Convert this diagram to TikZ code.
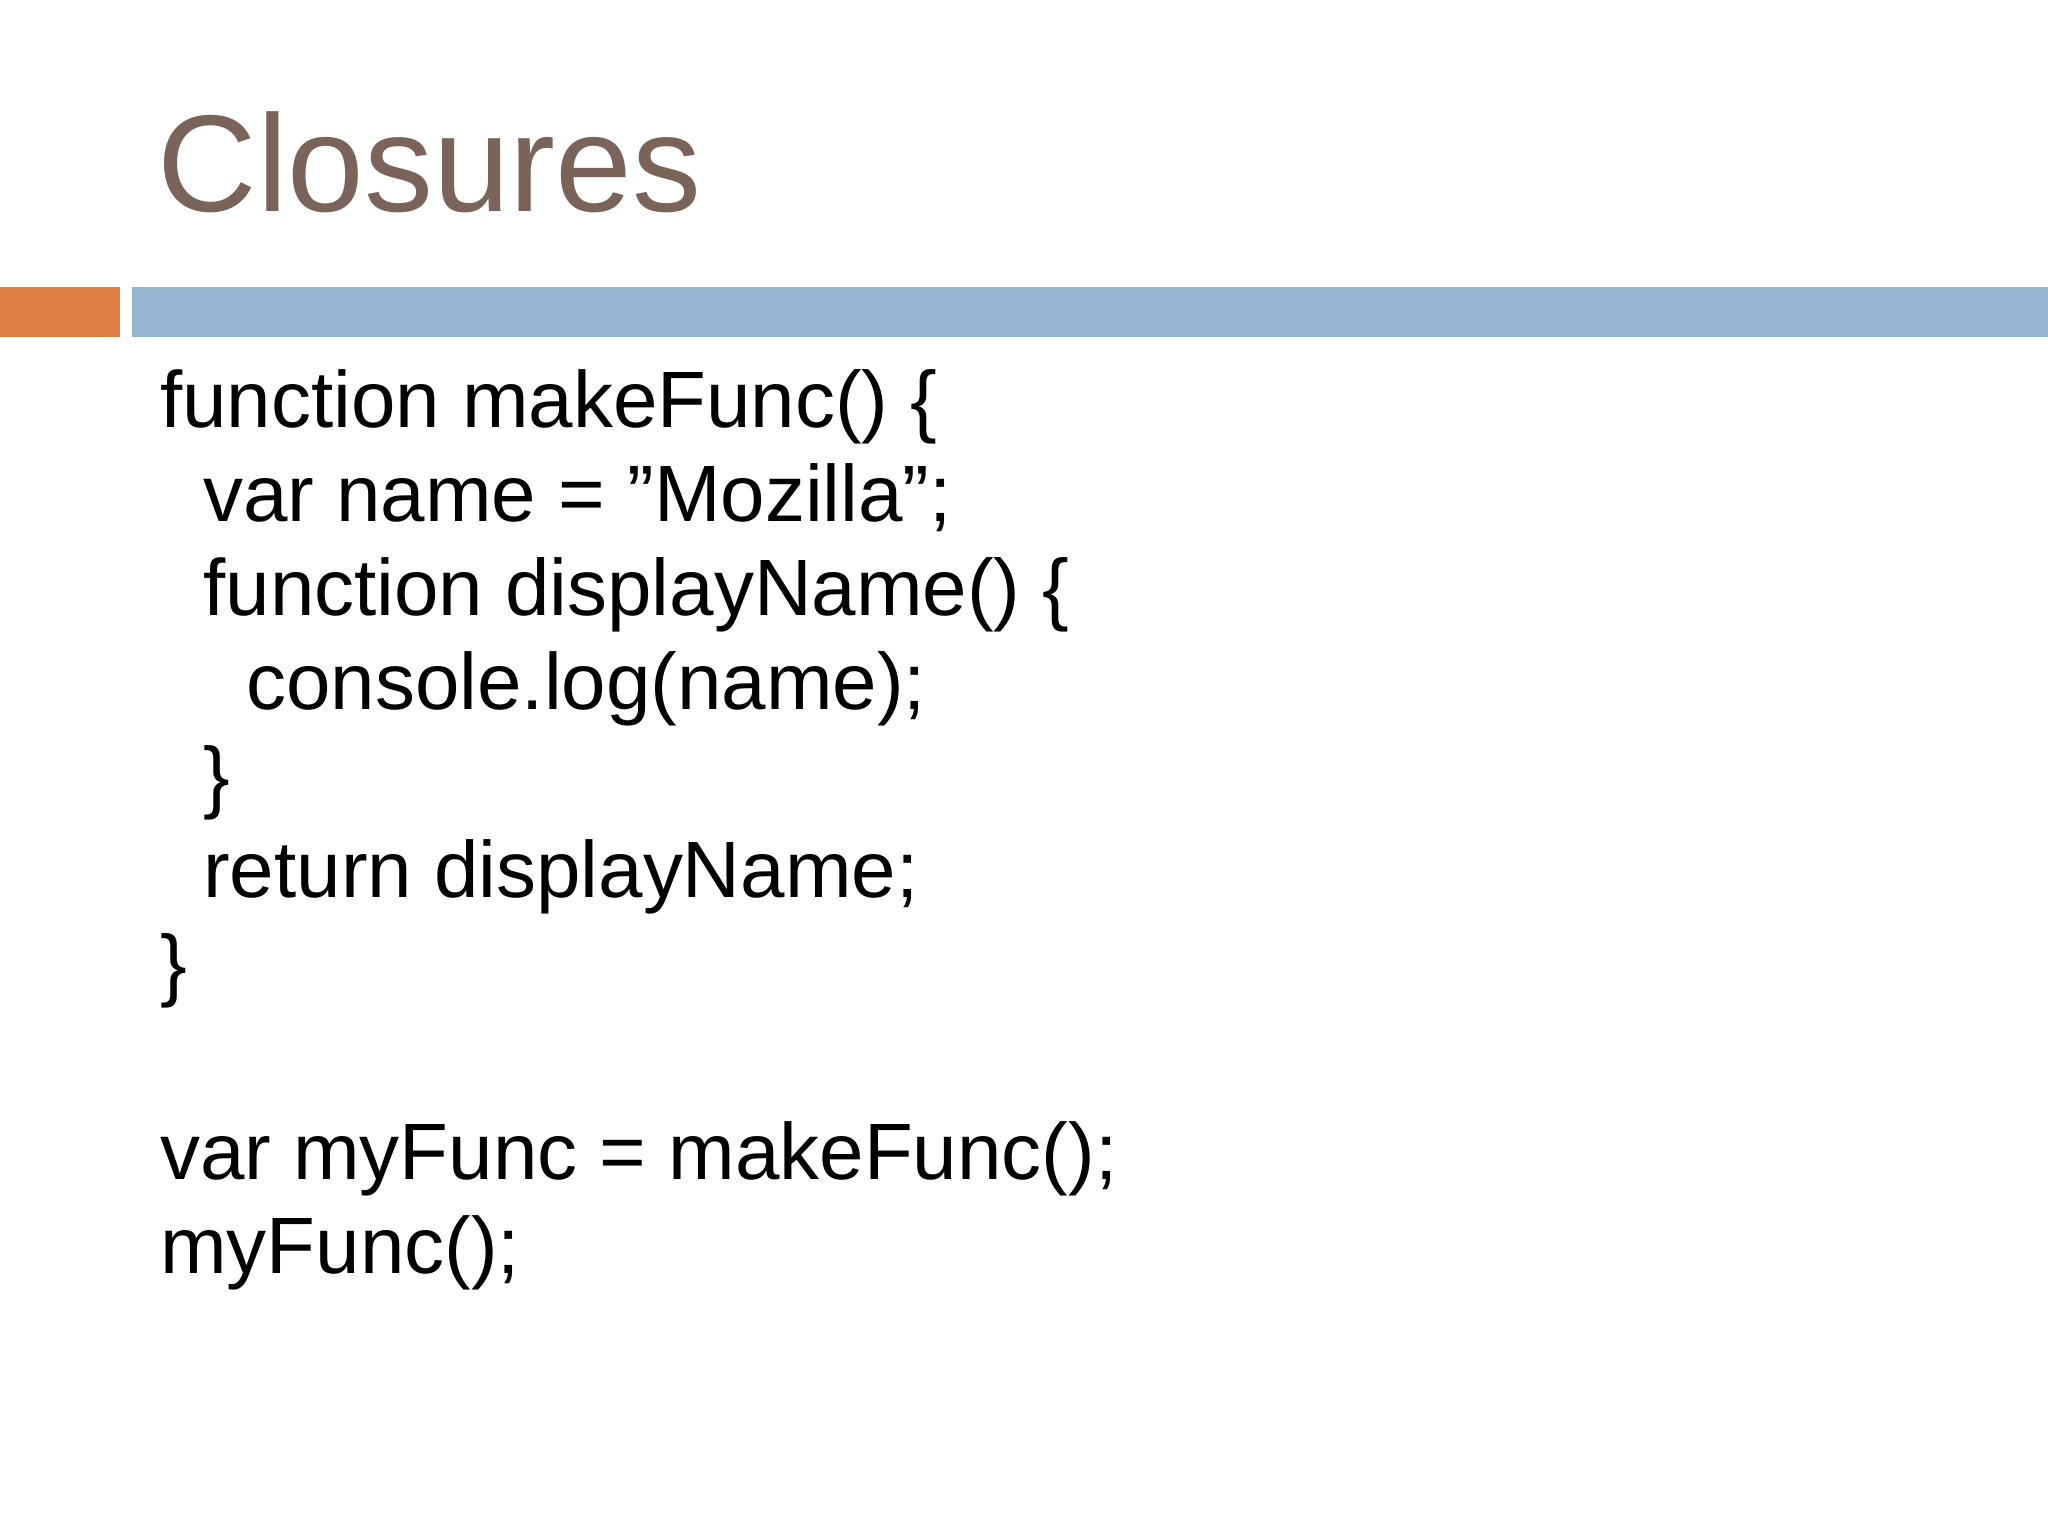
\documentclass[tikz,border=0pt]{standalone}
\usepackage{fontspec}
\setmainfont{Liberation Sans}
\definecolor{titlec}{HTML}{7A6358}
\definecolor{orangec}{HTML}{E07F46}
\definecolor{bluec}{HTML}{95B5D0}
\begin{document}
\begin{tikzpicture}[x=0.01cm,y=-0.01cm,
  code/.style={anchor=base west,inner sep=0pt,font=\fontsize{17.4pt}{20pt}\selectfont}]
\useasboundingbox (0,0) rectangle (1568,1176);
\fill[white] (0,0) rectangle (1568,1176);
\node[anchor=base west,inner sep=0pt,text=titlec,font=\fontsize{30pt}{34pt}\selectfont] (title) at (120,162) {Closures};
\fill[orangec] (0,220) rectangle (92,258);
\fill[bluec] (101,220) rectangle (1568,258);
\node[code] (l1) at (122,327) {function makeFunc() \{};
\node[code] (l2) at (155,399) {var name = "Mozilla";};
\node[code] (l3) at (155,471) {function displayName() \{};
\node[code] (l4) at (188,543) {console.log(name);};
\node[code] (l5) at (155,615) {\}};
\node[code] (l6) at (155,687) {return displayName;};
\node[code] (l7) at (122,759) {\}};
\node[code] (l8) at (122,903) {var myFunc = makeFunc();};
\node[code] (l9) at (122,975) {myFunc();};
\end{tikzpicture}
\end{document}
